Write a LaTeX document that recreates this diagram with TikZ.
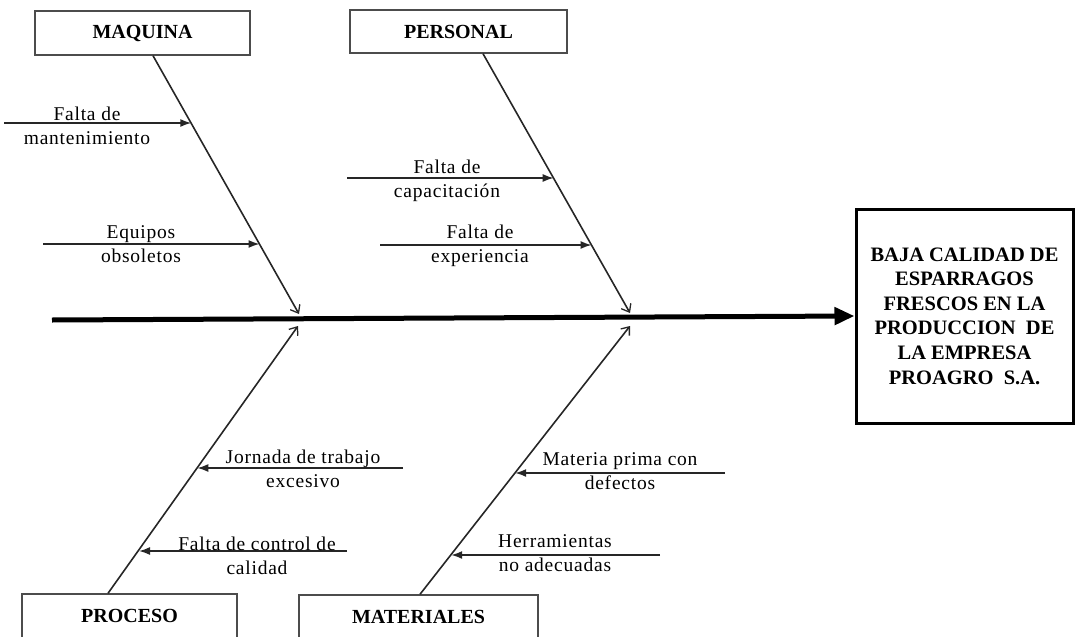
\documentclass[tikz,border=0pt]{standalone}
\usepackage{fontspec}
\setmainfont{Liberation Serif}
\newfontfamily\causefont[LetterSpace=4]{Liberation Serif}
\usetikzlibrary{arrows.meta,calc}

\begin{document}
\begin{tikzpicture}[x=1pt,y=-1pt,
  catbox/.style={draw=black!70, line width=1.4pt, fill=white, inner sep=0pt,
    font=\fontsize{20}{22}\selectfont\bfseries},
  effectbox/.style={draw=black, line width=3pt, inner sep=0pt, align=center,
    font=\fontsize{20.5}{24.6}\selectfont\bfseries},
  spine/.style={draw=black, line width=5pt, -{Triangle[length=20pt,width=17pt]}},
  bone/.style={draw=black!85, line width=1.6pt,
    -{Straight Barb[length=7pt,width=11pt,line width=1.3pt]}},
  cause/.style={draw=black!85, line width=1.6pt, -{Latex[length=11pt,width=8pt]}},
  causetext/.style={font=\causefont\fontsize{19.5}{24}\selectfont, align=center, inner sep=0pt},
]
\clip (0,0) rectangle (1076,637);

% category boxes
\node[catbox, minimum width=215pt, minimum height=44pt] (maq) at (142.5,33) {MAQUINA};
\node[catbox, minimum width=217pt, minimum height=43pt] (per) at (458.5,31.5) {PERSONAL};
\node[catbox, minimum width=215pt, minimum height=44pt, text depth=0pt] (proc) at (129.5,616) {PROCESO};
\node[catbox, minimum width=239pt, minimum height=44pt, text depth=0pt] (mat) at (418.5,617) {MATERIALES};

% effect box
\node[effectbox, minimum width=217pt, minimum height=214pt] (eff) at (964.5,316)
  {BAJA CALIDAD DE\\ESPARRAGOS\\FRESCOS EN LA\\PRODUCCION\ \ DE\\LA EMPRESA\\PROAGRO\ \ S.A.};

% main spine
\coordinate (tail) at (52,320);
\draw[spine] (tail) -- (eff.west);

% bone tips on the spine
\coordinate (tmaq) at (299,314);
\coordinate (tper) at (630,313);
\coordinate (tproc) at (298,326);
\coordinate (tmat) at (630,326);

\draw[bone] ($(maq.south)+(10.5,0)$) -- (tmaq);
\draw[bone] ($(per.south)+(24.5,0)$) -- (tper);
\draw[bone] ($(proc.north)+(-21.5,0)$) -- (tproc);
\draw[bone] ($(mat.north)+(1.5,0)$) -- (tmat);

% cause arrows: free start, tip on the bone
\coordinate (m1s) at (4,123);     \coordinate (m1) at (191.3,123);
\coordinate (m2s) at (43,244);    \coordinate (m2) at (259.5,244);
\coordinate (p1s) at (347,178);   \coordinate (p1) at (553.7,178);
\coordinate (p2s) at (380,245);   \coordinate (p2) at (591.6,245);
\coordinate (r1s) at (403,468);   \coordinate (r1) at (197.3,468);
\coordinate (r2s) at (347,551);   \coordinate (r2) at (139,551);
\coordinate (a1s) at (725,473);   \coordinate (a1) at (515.2,473);
\coordinate (a2s) at (660,555);   \coordinate (a2) at (451.2,555);

\foreach \s/\t in {m1s/m1, m2s/m2, p1s/p1, p2s/p2, r1s/r1, r2s/r2, a1s/a1, a2s/a2}
  \draw[cause] (\s) -- (\t);

% cause labels
\node[causetext] (lm1) at (87,125.5) {Falta de\\mantenimiento};
\node[causetext] (lm2) at (141,244) {Equipos\\obsoletos};
\node[causetext] (lp1) at (447,181) {Falta de\\capacitación};
\node[causetext] (lp2) at (480,245.5) {Falta de\\experiencia};
\node[causetext] (lr1) at (303,468.5) {Jornada de trabajo\\excesivo};
\node[causetext] (lr2) at (257,556) {Falta de control de\\calidad};
\node[causetext] (la1) at (620,471.5) {Materia prima con\\defectos};
\node[causetext] (la2) at (555,553) {Herramientas\\no adecuadas};
\end{tikzpicture}
\end{document}
